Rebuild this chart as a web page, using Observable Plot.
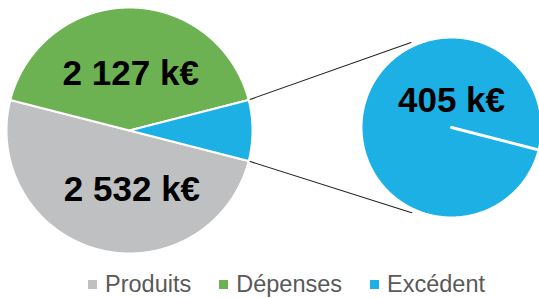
<!DOCTYPE html>
<html><head><meta charset="utf-8">
<script src="https://cdn.jsdelivr.net/npm/d3@7"></script>
<script src="https://cdn.jsdelivr.net/npm/@observablehq/plot@0.6"></script>
<style>
html,body{margin:0;padding:0;background:#fff;}
#chart{width:539px;height:298px;overflow:hidden;font-family:"Liberation Sans",Arial,sans-serif;}
#legend{padding-left:88px;margin-top:6px;}
.lg-swatches{font-family:"Liberation Sans",Arial,sans-serif !important;font-size:23.5px !important;color:#595959 !important;margin:0 !important;}
.lg-swatch{margin-right:28px !important;}
.lg-swatch > svg{margin-right:8px !important;}
</style></head><body><div id="chart"><div id="plot"></div><div id="legend"></div></div>
<script>
// ---- data ----
const categories = ["Produits", "Dépenses", "Excédent"];
const values = [2532, 2127, 405];
const colors = ["#BFC0C2", "#6CB152", "#1CB0E5"];
const detailCategory = "Excédent";

// ---- layout (pixels) ----
const W = 539, H = 262;
const L = {cx: 129, cy: 130, r: 123};
const R = {cx: 451, cy: 127, r: 90.5};
const connectorAngles = [-25.5, 205]; // degrees on secondary pie (clockwise from top)
const fmtLocale = d3.formatLocale({decimal: ",", thousands: " ", grouping: [3], currency: ["", " €"]});
const fmt = v => fmtLocale.format(",d")(v) + " k€";

const total = d3.sum(values);
const di = categories.indexOf(detailCategory);
const detailShare = values[di] / total * 2 * Math.PI;
const start = Math.PI / 2 + detailShare / 2;
const rows = categories.map((c, i) => ({cat: c, value: values[i]}));
const arcs = d3.pie().sort(null).value(d => d.value).startAngle(start).endAngle(start + 2 * Math.PI)(rows);

const pt = (c, a, r) => ({x: c.cx + r * Math.sin(a), y: c.cy - r * Math.cos(a)});

function slicePoly(c, a0, a1, cat) {
  const pts = [{...pt(c, 0, 0), cat}];
  const n = Math.max(2, Math.ceil((a1 - a0) / (Math.PI / 360)));
  for (let k = 0; k <= n; k++) pts.push({...pt(c, a0 + (a1 - a0) * k / n, c.r), cat});
  pts.push({...pt(c, 0, 0), cat});
  return pts;
}

const polys = [];
arcs.forEach(a => polys.push(...slicePoly(L, a.startAngle, a.endAngle, a.data.cat)));
const detailPoly = slicePoly(R, start, start + 2 * Math.PI, detailCategory).map(d => ({...d, cat: detailCategory + "_2"}));

// labels
const labelOffsets = {"Produits": [0.02, 0.48], "Dépenses": [0.01, -0.46]};
const labels = rows.filter(d => labelOffsets[d.cat]).map(d => ({
  x: L.cx + labelOffsets[d.cat][0] * L.r, y: L.cy + labelOffsets[d.cat][1] * L.r, text: fmt(d.value)
}));
labels.push({x: R.cx, y: R.cy - 0.3 * R.r, text: fmt(values[di])});

// connectors
const da = arcs[di];
const conn = [
  {...pt(L, da.startAngle, L.r), k: "a"}, {...pt(R, connectorAngles[0] * Math.PI / 180, R.r * 1.04), k: "a"},
  {...pt(L, da.endAngle, L.r), k: "b"}, {...pt(R, connectorAngles[1] * Math.PI / 180, R.r * 1.04), k: "b"}
];

const colorOf = Object.fromEntries(categories.map((c, i) => [c, colors[i]]));

const plot = Plot.plot({
  width: W, height: H,
  margin: 0,
  x: {domain: [0, W], range: [0, W], axis: null},
  y: {domain: [0, H], range: [0, H], axis: null},
  color: {domain: categories, range: colors},
  style: {background: "white", overflow: "visible"},
  marks: [
    Plot.line(conn, {x: "x", y: "y", z: "k", stroke: "#222", strokeWidth: 1.1}),
    Plot.line(polys, {x: "x", y: "y", z: "cat", fill: "cat", stroke: "white", strokeWidth: 2, strokeLinejoin: "round", curve: "linear"}),
    Plot.line(detailPoly, {x: "x", y: "y", z: "cat", fill: colorOf[detailCategory], stroke: "white", strokeWidth: 3, strokeLinejoin: "round", strokeLinecap: "round"}),
    Plot.text(labels, {x: "x", y: "y", text: "text", fontSize: 35, fontWeight: "bold", fill: "black", fontFamily: "Liberation Sans, Arial, sans-serif"})
  ]
});
document.getElementById("plot").appendChild(plot);
const lg = plot.legend("color", {legend: "swatches", swatchSize: 9, className: "lg"});
document.getElementById("legend").appendChild(lg);
</script></body></html>
